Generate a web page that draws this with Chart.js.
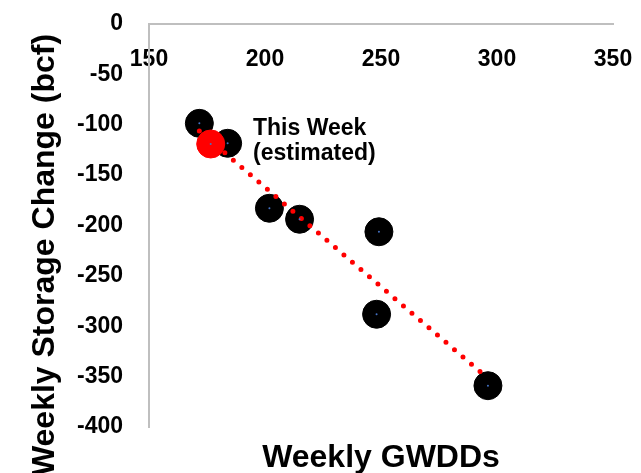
<!DOCTYPE html>
<html><head><meta charset="utf-8">
<script src="https://cdn.jsdelivr.net/npm/chart.js@4.4.0/dist/chart.umd.min.js"></script>
<style>html,body{margin:0;padding:0;background:#fff;}#wrap{width:641px;height:473px;position:relative;}</style>
</head><body><div id="wrap"><canvas id="c" width="641" height="473"></canvas></div>
<script>
// ---- data ----
const gwdd = [171.7, 183.9, 201.9, 214.9, 249.1, 248.1, 296.1];
const storage = [-98.6, -118.4, -182.9, -193.8, -206.2, -288.1, -359.0];
const thisWeekGwdd = [176.6];
const thisWeekStorage = [-119.1];
const trendGwdd = [171.7, 296.1];
const trendStorage = [-106.2, -351.7];
const xTicks = [150, 200, 250, 300, 350];
const yTicks = [0, -50, -100, -150, -200, -250, -300, -350, -400];
const xTitle = 'Weekly GWDDs';
const yTitle = 'Weekly Storage Change (bcf)';
const noteLines = ['This Week', '(estimated)'];

const FONT = "'Liberation Sans', Arial, sans-serif";
Chart.defaults.font.family = FONT;
Chart.defaults.font.weight = 'bold';
Chart.defaults.font.size = 23;
Chart.defaults.color = '#000';

const toPts = (xs, ys) => xs.map((x, i) => ({x: x, y: ys[i]}));

const textPlugin = {
  id: 'textPlugin',
  afterDraw(chart) {
    const ctx = chart.ctx;
    ctx.save();
    ctx.fillStyle = '#000';
    ctx.font = "bold 32px " + FONT;
    ctx.textAlign = 'center';
    ctx.textBaseline = 'alphabetic';
    ctx.fillText(xTitle, 381, 467);
    ctx.save();
    ctx.translate(54, 255);
    ctx.rotate(-Math.PI / 2);
    ctx.fillText(yTitle, 0, 0);
    ctx.restore();
    ctx.font = "bold 23px " + FONT;
    ctx.textAlign = 'left';
    ctx.fillText(noteLines[0], 253, 135);
    ctx.fillText(noteLines[1], 253, 160);
    ctx.restore();
  }
};

new Chart(document.getElementById('c'), {
  type: 'scatter',
  data: {
    datasets: [
      { label: 'centers', data: toPts(gwdd.concat(thisWeekGwdd), storage.concat(thisWeekStorage)),
        pointRadius: 1, pointBackgroundColor: '#4472C4', pointBorderWidth: 0, order: 0 },
      { label: 'trend', data: toPts(trendGwdd, trendStorage), showLine: true, pointRadius: 0,
        borderColor: '#FF0000', borderWidth: 5, borderDash: [0, 11.2], borderCapStyle: 'round', order: 1 },
      { label: 'this week', data: toPts(thisWeekGwdd, thisWeekStorage), pointRadius: 14,
        pointBackgroundColor: '#FF0000', pointBorderColor: '#FF0000', pointBorderWidth: 1, order: 2 },
      { label: 'history', data: toPts(gwdd, storage), pointRadius: 14,
        pointBackgroundColor: '#000', pointBorderColor: '#000', pointBorderWidth: 1, order: 3 }
    ]
  },
  options: {
    responsive: false,
    devicePixelRatio: 1,
    animation: false,
    layout: { padding: { left: 0, top: 24, right: 28, bottom: 46 } },
    plugins: { legend: { display: false }, tooltip: { enabled: false } },
    scales: {
      x: {
        type: 'linear', min: 150, max: 350, position: { y: 0 },
        afterBuildTicks: s => { s.ticks = xTicks.map(v => ({value: v})); },
        afterFit: s => { s.height = 0; s.paddingLeft = 0; s.paddingRight = 0; s.paddingTop = 0; s.paddingBottom = 0; },
        ticks: { padding: 22, maxRotation: 0 },
        grid: { display: true, drawOnChartArea: false, drawTicks: false },
        border: { display: true, color: '#BFBFBF', width: 2 }
      },
      y: {
        type: 'linear', min: -400, max: 0, position: 'left',
        afterBuildTicks: s => { s.ticks = yTicks.map(v => ({value: v})); },
        afterFit: s => { s.width = 149; s.paddingTop = 0; s.paddingBottom = 0; s.paddingLeft = 0; s.paddingRight = 0; },
        ticks: { padding: 26 },
        grid: { display: true, drawOnChartArea: false, drawTicks: false },
        border: { display: true, color: '#BFBFBF', width: 2 }
      }
    }
  },
  plugins: [textPlugin]
});
</script></body></html>
